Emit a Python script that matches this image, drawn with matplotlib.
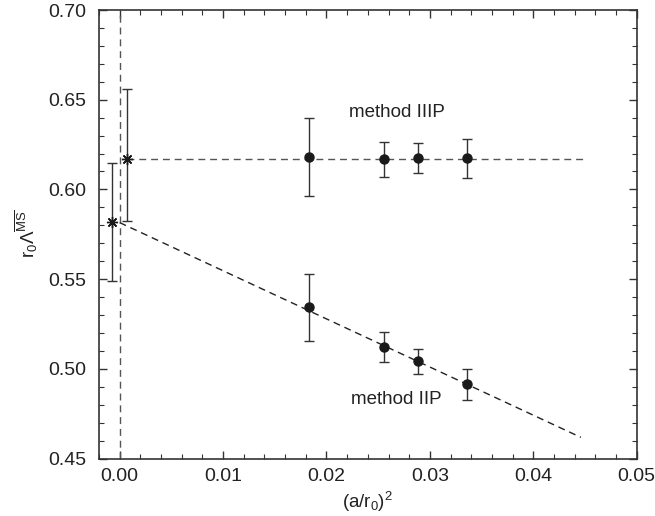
import matplotlib
matplotlib.use("Agg")
import matplotlib.pyplot as plt
from matplotlib.ticker import MultipleLocator
import numpy as np

plt.rcParams['font.family'] = ['Liberation Sans', 'DejaVu Sans']
plt.rcParams['mathtext.fontset'] = 'custom'
plt.rcParams['mathtext.rm'] = 'Liberation Sans'
plt.rcParams['mathtext.it'] = 'Liberation Sans'

# method IIIP data
x_iiip = [0.0183, 0.02554, 0.02886, 0.03356]
y_iiip = [0.6183, 0.6168, 0.6174, 0.6174]
lo_iiip = [0.5964, 0.6068, 0.6092, 0.6064]
hi_iiip = [0.6400, 0.6265, 0.6257, 0.6281]

# method IIP data
x_iip = [0.0183, 0.02554, 0.02886, 0.03356]
y_iip = [0.5344, 0.5121, 0.5041, 0.4915]
lo_iip = [0.5156, 0.5039, 0.4972, 0.4828]
hi_iip = [0.5529, 0.5203, 0.5108, 0.5000]

# continuum extrapolations
x_ext = [-0.00074, 0.0007]
y_ext = [0.5821, 0.6170]
lo_ext = [0.5490, 0.5826]
hi_ext = [0.6146, 0.6562]

# fit lines
fit_iiip_x = [0.0007, 0.045]
fit_iiip_y = [0.6170, 0.6170]
fit_iip_x = [0.0, 0.0446]
fit_iip_y = [0.5815, 0.4618]

fig = plt.figure(figsize=(6.55, 5.16), dpi=100)
ax = fig.add_axes([0.1511, 0.1114, 0.8210, 0.8692])

dash = (0, (5, 3.5))
ax.axvline(0.0, color='#555555', lw=1.0, linestyle=dash)
ax.plot(fit_iiip_x, fit_iiip_y, color='#555555', lw=1.0, linestyle=dash)
ax.plot(fit_iip_x, fit_iip_y, color='#222222', lw=1.0, linestyle=dash)

def eb(x, y, lo, hi, marker, ms):
    y = np.array(y); lo = np.array(lo); hi = np.array(hi)
    ax.errorbar(x, y, yerr=[y - lo, hi - y], fmt='none',
                ecolor='#333333', elinewidth=1.0, capsize=3.5, capthick=1.0, zorder=3)
    ax.plot(x, y, linestyle='none', marker=marker, color='#1a1a1a', ms=ms, mew=1.0, zorder=4)

eb(x_iiip, y_iiip, lo_iiip, hi_iiip, 'o', 6.5)
eb(x_iip, y_iip, lo_iip, hi_iip, 'o', 6.5)
eb(x_ext, y_ext, lo_ext, hi_ext, (8, 2, 0), 8)

ax.text(0.0222, 0.643, 'method IIIP', fontsize=13.5, color='#222222', va='center', ha='left')
ax.text(0.0224, 0.483, 'method IIP', fontsize=13.5, color='#222222', va='center', ha='left')

ax.set_xlim(-0.002, 0.05)
ax.set_ylim(0.45, 0.70)
ax.xaxis.set_major_locator(MultipleLocator(0.01))
ax.xaxis.set_minor_locator(MultipleLocator(0.002))
ax.yaxis.set_major_locator(MultipleLocator(0.05))
ax.yaxis.set_minor_locator(MultipleLocator(0.01))
ax.xaxis.set_major_formatter(plt.FuncFormatter(lambda v, p: f"{v:.2f}"))
ax.yaxis.set_major_formatter(plt.FuncFormatter(lambda v, p: f"{v:.2f}"))
ax.tick_params(which='both', direction='in', top=True, right=True, colors='#333333',
               labelsize=14, labelcolor='#222222')
ax.tick_params(which='major', length=6, width=1.0)
ax.tick_params(axis='y', which='major', pad=9)
ax.tick_params(axis='x', which='major', pad=7)
ax.tick_params(which='minor', length=3.5, width=0.8)
for s in ax.spines.values():
    s.set_color('#333333')
    s.set_linewidth(1.2)

ax.set_xlabel(r'$(a/r_0)^2$', fontsize=13.5, color='#222222', labelpad=3)
ax.set_ylabel(r'$r_0\Lambda^{\overline{\rm MS}}$', fontsize=13.5, color='#222222', labelpad=6)

fig.savefig('out.png', dpi=100)
